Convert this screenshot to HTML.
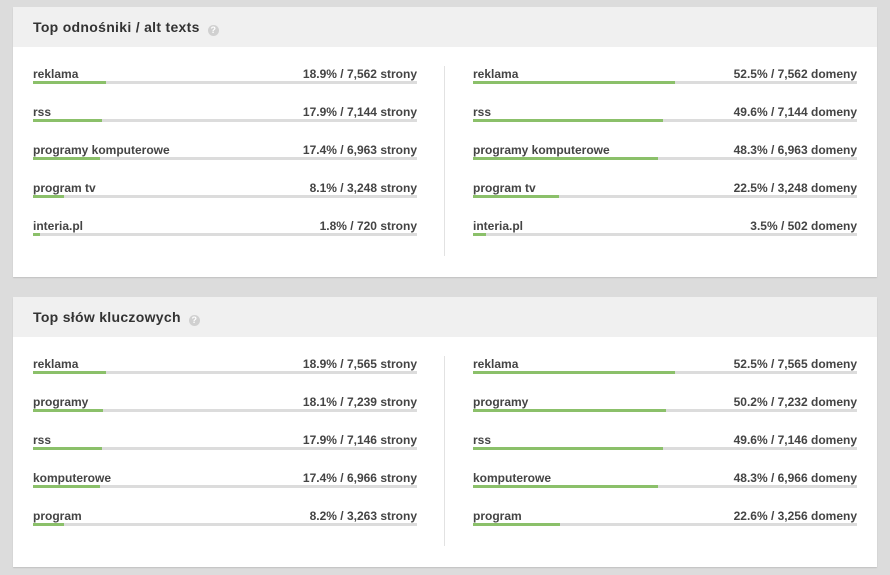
<!DOCTYPE html>
<html><head><meta charset="utf-8"><style>
body{margin:0;width:890px;height:575px;background:#dcdcdc;font-family:"Liberation Sans",Arial,sans-serif;position:relative;overflow:hidden}
.panel{position:absolute;left:13px;width:864px;height:270px;background:#fff;box-shadow:0 1px 1px rgba(0,0,0,.12)}
.hd{height:40px;background:#f0f0f0;position:relative}
.hd .t{position:absolute;left:20px;top:12px;font-size:14px;font-weight:bold;color:#333;letter-spacing:0.3px}
.q{display:inline-block;width:11px;height:11px;border-radius:50%;background:#d0d0d0;color:#fff;font-size:9px;text-align:center;line-height:11px;margin-left:8px;vertical-align:-1px;letter-spacing:0}
.div{position:absolute;left:431px;top:59px;width:1px;height:190px;background:#e2e2e2}
.row{position:absolute;width:384px;height:20px;font-size:12px;font-weight:bold;color:#444}
.row .l{position:absolute;left:0;top:0}
.row .r{position:absolute;right:0;top:0}
.bar{position:absolute;left:0;top:14px;width:384px;height:3px;background:#dcdcdc}
.bar i{display:block;height:3px;background:#8bc06a}
</style></head><body>
<div class="panel" style="top:7px"><div class="hd"><div class="t">Top odnośniki / alt texts<b class="q">?</b></div></div><div class="div"></div>
<div class="row" style="left:20px;top:60px"><span class="l">reklama</span><span class="r">18.9% / 7,562 strony</span><div class="bar"><i style="width:19%"></i></div></div>
<div class="row" style="left:20px;top:98px"><span class="l">rss</span><span class="r">17.9% / 7,144 strony</span><div class="bar"><i style="width:18%"></i></div></div>
<div class="row" style="left:20px;top:136px"><span class="l">programy komputerowe</span><span class="r">17.4% / 6,963 strony</span><div class="bar"><i style="width:17.5%"></i></div></div>
<div class="row" style="left:20px;top:174px"><span class="l">program tv</span><span class="r">8.1% / 3,248 strony</span><div class="bar"><i style="width:8.1%"></i></div></div>
<div class="row" style="left:20px;top:212px"><span class="l">interia.pl</span><span class="r">1.8% / 720 strony</span><div class="bar"><i style="width:1.8%"></i></div></div>
<div class="row" style="left:460px;top:60px"><span class="l">reklama</span><span class="r">52.5% / 7,562 domeny</span><div class="bar"><i style="width:52.5%"></i></div></div>
<div class="row" style="left:460px;top:98px"><span class="l">rss</span><span class="r">49.6% / 7,144 domeny</span><div class="bar"><i style="width:49.6%"></i></div></div>
<div class="row" style="left:460px;top:136px"><span class="l">programy komputerowe</span><span class="r">48.3% / 6,963 domeny</span><div class="bar"><i style="width:48.3%"></i></div></div>
<div class="row" style="left:460px;top:174px"><span class="l">program tv</span><span class="r">22.5% / 3,248 domeny</span><div class="bar"><i style="width:22.5%"></i></div></div>
<div class="row" style="left:460px;top:212px"><span class="l">interia.pl</span><span class="r">3.5% / 502 domeny</span><div class="bar"><i style="width:3.5%"></i></div></div>
</div>
<div class="panel" style="top:297px"><div class="hd"><div class="t">Top słów kluczowych<b class="q">?</b></div></div><div class="div"></div>
<div class="row" style="left:20px;top:60px"><span class="l">reklama</span><span class="r">18.9% / 7,565 strony</span><div class="bar"><i style="width:19%"></i></div></div>
<div class="row" style="left:20px;top:98px"><span class="l">programy</span><span class="r">18.1% / 7,239 strony</span><div class="bar"><i style="width:18.1%"></i></div></div>
<div class="row" style="left:20px;top:136px"><span class="l">rss</span><span class="r">17.9% / 7,146 strony</span><div class="bar"><i style="width:18%"></i></div></div>
<div class="row" style="left:20px;top:174px"><span class="l">komputerowe</span><span class="r">17.4% / 6,966 strony</span><div class="bar"><i style="width:17.5%"></i></div></div>
<div class="row" style="left:20px;top:212px"><span class="l">program</span><span class="r">8.2% / 3,263 strony</span><div class="bar"><i style="width:8.2%"></i></div></div>
<div class="row" style="left:460px;top:60px"><span class="l">reklama</span><span class="r">52.5% / 7,565 domeny</span><div class="bar"><i style="width:52.5%"></i></div></div>
<div class="row" style="left:460px;top:98px"><span class="l">programy</span><span class="r">50.2% / 7,232 domeny</span><div class="bar"><i style="width:50.2%"></i></div></div>
<div class="row" style="left:460px;top:136px"><span class="l">rss</span><span class="r">49.6% / 7,146 domeny</span><div class="bar"><i style="width:49.6%"></i></div></div>
<div class="row" style="left:460px;top:174px"><span class="l">komputerowe</span><span class="r">48.3% / 6,966 domeny</span><div class="bar"><i style="width:48.3%"></i></div></div>
<div class="row" style="left:460px;top:212px"><span class="l">program</span><span class="r">22.6% / 3,256 domeny</span><div class="bar"><i style="width:22.6%"></i></div></div>
</div>
</body></html>
